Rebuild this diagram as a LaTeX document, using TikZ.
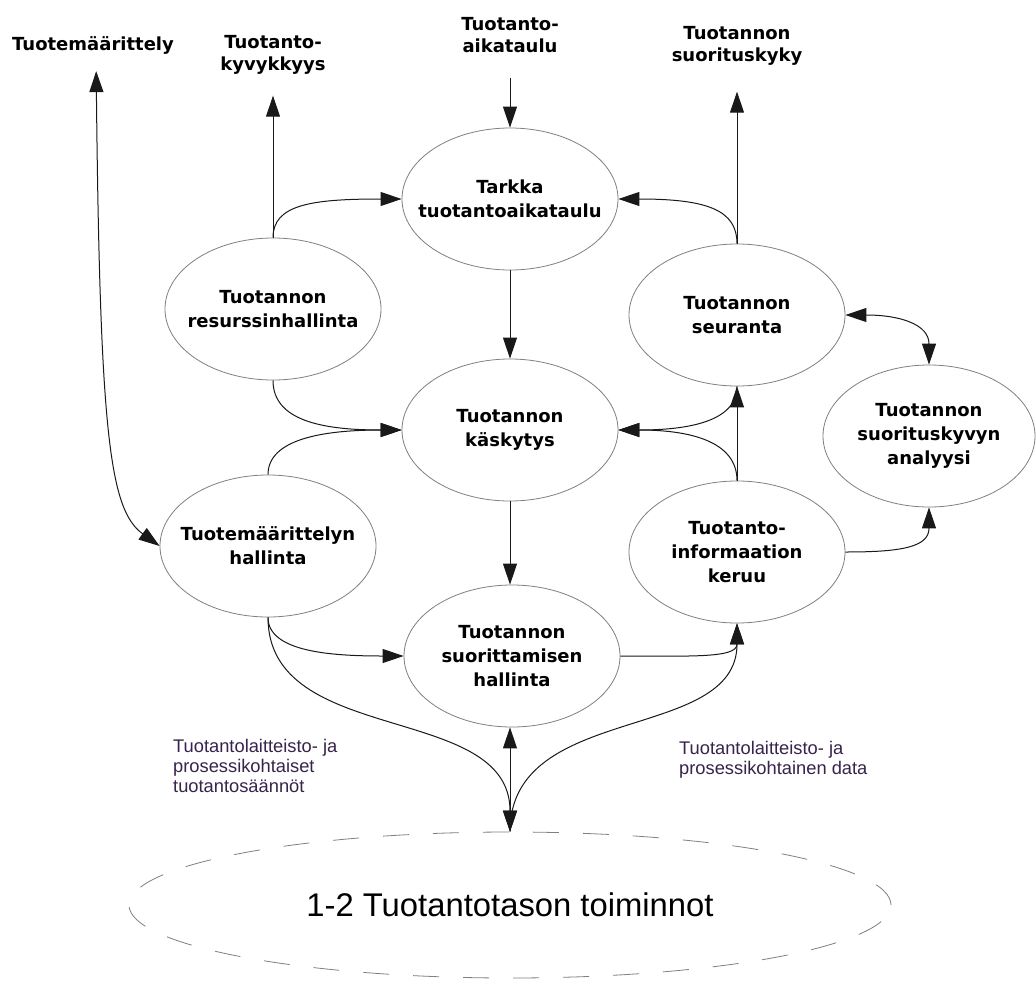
\documentclass[tikz,border=0pt]{standalone}
\usepackage{fontspec}
\newfontfamily\dejav{DejaVu Sans}
\newfontfamily\libsans{Liberation Sans}
\usetikzlibrary{shapes.geometric,arrows.meta}
\definecolor{edgegray}{RGB}{128,128,128}
\definecolor{lblpurple}{RGB}{55,35,75}
\begin{document}
\begin{tikzpicture}[x=1pt,y=-1pt,
  proc/.style={ellipse, draw=edgegray, line width=0.8pt, minimum width=216pt, minimum height=142pt, inner xsep=-45pt, inner ysep=0pt, align=center, font=\dejav\bfseries\fontsize{18}{24}\selectfont},
  ext/.style={align=center, inner sep=0pt, font=\dejav\bfseries\fontsize{18}{22}\selectfont},
  note/.style={align=left, inner sep=0pt, anchor=west, text=lblpurple, font=\libsans\fontsize{18.3}{20}\selectfont},
  conn/.style={draw=black!90, line width=1pt, -{Triangle[length=21pt,width=14pt]}},
  conn2/.style={draw=black!90, line width=1pt, {Triangle[length=21pt,width=14pt]}-{Triangle[length=21pt,width=14pt]}},
]
\fill[white] (0,0) rectangle (1036,980);
\useasboundingbox (0,0) rectangle (1036,980);

% process nodes
\node[proc] (tark) at (510,199) {Tarkka\\tuotantoaikataulu};
\node[proc] (res) at (273,309) {Tuotannon\\resurssinhallinta};
\node[proc] (kask) at (510,430) {Tuotannon\\käskytys};
\node[proc] (hal) at (268,546) {Tuotemäärittelyn\\hallinta};
\node[proc] (suor) at (512,656) {Tuotannon\\suorittamisen\\hallinta};
\node[proc] (seur) at (737,315) {Tuotannon\\seuranta};
\node[proc, minimum width=212pt] (anal) at (929,436) {Tuotannon\\suorituskyvyn\\analyysi};
\node[proc] (ker) at (737,552) {Tuotanto-\\informaation\\keruu};
\node[ellipse, draw=edgegray, line width=0.8pt, dash pattern=on 26pt off 24pt, minimum width=762pt, minimum height=146pt, inner sep=0pt, font=\libsans\fontsize{32.8}{36}\selectfont] (toim) at (510,905) {1-2 Tuotantotason toiminnot};

% external labels
\node[ext] (tm) at (93,45) {Tuotemäärittely};
\node[ext] (kyv) at (273,55) {Tuotanto-\\kyvykkyys};
\node[ext] (aik) at (510,35) {Tuotanto-\\aikataulu};
\node[ext] (perf) at (737,46) {Tuotannon\\suorituskyky};

% edge labels
\node[note] (lrule) at (173,766) {Tuotantolaitteisto- ja\\prosessikohtaiset\\tuotantosäännöt};
\node[note] (rdata) at (679,760) {Tuotantolaitteisto- ja\\prosessikohtainen data};

% connectors
\draw[conn2, shorten <=17pt] ([xshift=3pt]tm.south) .. controls +(4,380) and +(-50,-36) .. (hal.west);
\draw[conn, shorten >=21pt] (res.north) -- (res.north |- kyv.south);
\draw[conn, shorten <=25pt] (aik.south) -- (tark.north);
\draw[conn, shorten >=26pt] (seur.north) -- (seur.north |- perf.south);

\draw[conn] (res.north) .. controls +(0,-33) and +(-90,0) .. (tark.west);
\draw[conn] (seur.north) .. controls +(0,-33) and +(90,0) .. (tark.east);
\draw[conn] (tark.south) -- (kask.north);
\draw[conn] (res.south) .. controls +(0,40) and +(-80,0) .. (kask.west);
\draw[conn] (hal.north) .. controls +(0,-35) and +(-80,0) .. (kask.west);
\draw[conn] (kask.south) -- (kask.south |- suor.north);
\draw[conn] (ker.north) -- (seur.south);
\draw[conn] (ker.north) .. controls +(0,-40) and +(70,0) .. (kask.east);
\draw[conn] (seur.south) .. controls +(0,35) and +(70,0) .. (kask.east);
\draw[conn2] (seur.east) .. controls +(55,0) and +(0,-40) .. (anal.north);
\draw[conn] (ker.east) .. controls +(55,0) and +(0,40) .. (anal.south);
\draw[conn] (hal.south) .. controls +(0,35) and +(-70,0) .. (suor.west);
\draw[conn] (suor.east) .. controls +(70,0) and +(0,35) .. (ker.south);
\draw[conn2] (toim.north |- suor.south) -- (toim.north);
\draw[conn] (hal.south) .. controls +(0,130) and +(0,-130) .. (toim.north);
\draw[conn] (toim.north) .. controls +(0,-130) and +(0,120) .. (ker.south);
\end{tikzpicture}
\end{document}
